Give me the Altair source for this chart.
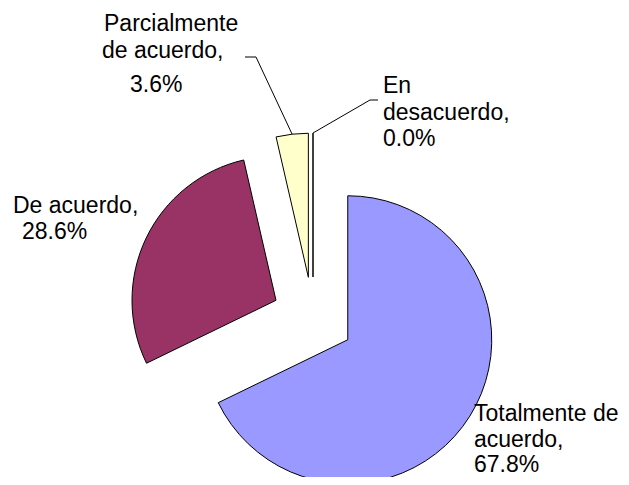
import altair as alt
import pandas as pd

# ---- data ----
categories = ["Totalmente de acuerdo", "De acuerdo", "Parcialmente de acuerdo", "En desacuerdo"]
values = [67.8, 28.6, 3.6, 0.0]
colors = ["#9999FF", "#993366", "#FFFFCC", "#CCFFFF"]
wrapped = [["Totalmente de", "acuerdo,"], ["De acuerdo,"], ["Parcialmente", "de acuerdo,"], ["En", "desacuerdo,"]]

# ---- layout (chart pixel coords; page margin 8px already removed) ----
W, H = 613, 469
CX, CY = 305, 310      # pie centre before explosion
R = 144                # radius
D = 41                 # explosion distance
FONT = "Liberation Sans"
FS = 23
OFF = 8
line_pos = [
    [(474, 421), (474, 447), (474, 472)],
    [(13, 213), (22, 239)],
    [(104, 31), (102, 58), (130, 92)],
    [(383, 93), (383, 120), (383, 146)],
]

df = pd.DataFrame({"category": categories, "value": values, "order": list(range(len(values)))})

rows = []
for cat, v, wl, pos in zip(categories, values, wrapped, line_pos):
    texts = wl + [f"{v:.1f}%"]
    for t, (px, py) in zip(texts, pos):
        rows.append({"text": t, "px": px - OFF, "py": py - OFF})
lines_df = pd.DataFrame(rows)

base = (
    alt.Chart(df)
    .transform_joinaggregate(total="sum(value)")
    .transform_window(cum="sum(value)", sort=[alt.SortField("order")], frame=[None, 0])
    .transform_calculate(
        a0="2*PI*(datum.cum - datum.value)/datum.total",
        a1="2*PI*datum.cum/datum.total",
    )
    .transform_calculate(mid="(datum.a0 + datum.a1)/2")
    .transform_calculate(
        cx=f"{CX} + {D}*sin(datum.mid)",
        cy=f"{CY} - {D}*cos(datum.mid)",
    )
    .transform_calculate(
        ox=f"datum.cx + {R}*sin(datum.mid)",
        oy=f"datum.cy - {R}*cos(datum.mid)",
    )
)

arcs = base.mark_arc(outerRadius=R, stroke="black", strokeWidth=1).encode(
    x=alt.X("cx:Q", scale=None),
    y=alt.Y("cy:Q", scale=None),
    theta=alt.Theta("a0:Q", scale=None),
    theta2="a1:Q",
    color=alt.Color("category:N", scale=alt.Scale(domain=categories, range=colors), legend=None),
)

def leader(cat, elbow, end):
    seg1 = base.transform_filter(alt.datum.category == cat).mark_rule(color="black", strokeWidth=1).encode(
        x=alt.X("ox:Q", scale=None),
        y=alt.Y("oy:Q", scale=None),
        x2=alt.value(elbow[0] - OFF),
        y2=alt.value(elbow[1] - OFF),
    )
    seg2 = base.transform_filter(alt.datum.category == cat).mark_rule(color="black", strokeWidth=1).encode(
        x=alt.value(elbow[0] - OFF),
        y=alt.value(elbow[1] - OFF),
        x2=alt.value(end[0] - OFF),
        y2=alt.value(end[1] - OFF),
    )
    return seg1 + seg2

lead_par = leader("Parcialmente de acuerdo", (256, 57), (245, 57))
lead_en = leader("En desacuerdo", (370, 100), (378, 100))

labels = alt.Chart(lines_df).mark_text(
    align="left", baseline="alphabetic", font=FONT, fontSize=FS, color="black"
).encode(
    x=alt.X("px:Q", scale=None),
    y=alt.Y("py:Q", scale=None),
    text="text:N",
)

chart = (
    alt.layer(arcs, lead_par, lead_en, labels)
    .properties(width=W, height=H, autosize=alt.AutoSizeParams(type="none"), padding=0)
    .configure_view(stroke=None)
)

chart.save("out.html", embed_options={"renderer": "svg", "actions": False})
